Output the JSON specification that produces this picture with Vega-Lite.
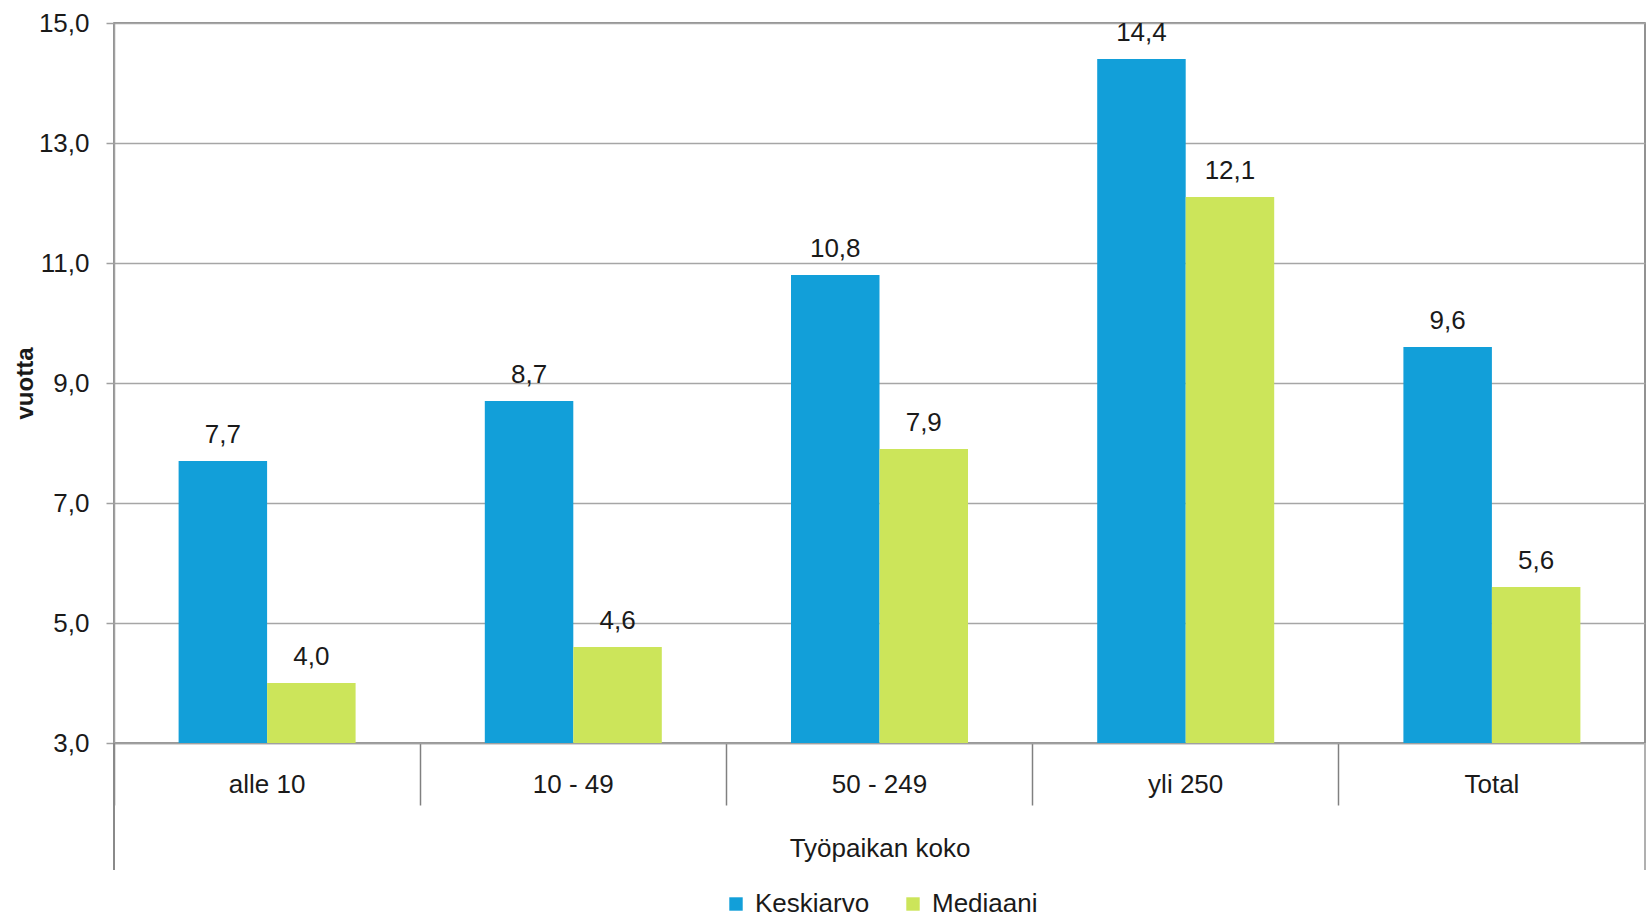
{
  "$schema": "https://vega.github.io/schema/vega-lite/v6.json",
  "width": 1531,
  "height": 720,
  "autosize": {"type": "none"},
  "padding": {"left": 114, "top": 23, "right": 2, "bottom": 177},
  "background": "white",
  "config": {
    "font": "Liberation Sans",
    "view": {"stroke": "#6f6f6f", "strokeWidth": 1.5},
    "locale": {"number": {"decimal": ",", "thousands": " ", "grouping": [3], "currency": ["", " €"]}}
  },
  "data": {
    "values": [
      {"koko": "alle 10", "sarja": "Keskiarvo", "arvo": 7.7},
      {"koko": "alle 10", "sarja": "Mediaani", "arvo": 4.0},
      {"koko": "10 - 49", "sarja": "Keskiarvo", "arvo": 8.7},
      {"koko": "10 - 49", "sarja": "Mediaani", "arvo": 4.6},
      {"koko": "50 - 249", "sarja": "Keskiarvo", "arvo": 10.8},
      {"koko": "50 - 249", "sarja": "Mediaani", "arvo": 7.9},
      {"koko": "yli 250", "sarja": "Keskiarvo", "arvo": 14.4},
      {"koko": "yli 250", "sarja": "Mediaani", "arvo": 12.1},
      {"koko": "Total", "sarja": "Keskiarvo", "arvo": 9.6},
      {"koko": "Total", "sarja": "Mediaani", "arvo": 5.6}
    ]
  },
  "encoding": {
    "x": {
      "field": "koko", "type": "nominal", "sort": null,
      "scale": {"paddingInner": 0, "paddingOuter": 0},
      "axis": {
        "title": "Työpaikan koko",
        "titleFont": "Liberation Sans", "titleFontSize": 26, "titleFontWeight": "normal", "titleColor": "#1a1a1a",
        "titleY": 113, "titleBaseline": "alphabetic",
        "labelAngle": 0, "labelFontSize": 26, "labelColor": "#1a1a1a", "labelBaseline": "top", "labelPadding": -34,
        "bandPosition": 0, "tickSize": 62, "tickColor": "#808080", "tickWidth": 1.5,
        "domainColor": "#a0a0a0", "domainWidth": 1.5, "grid": false
      }
    },
    "y": {
      "field": "arvo", "type": "quantitative",
      "scale": {"domain": [3, 15], "nice": false, "zero": false},
      "axis": {
        "title": "vuotta", "titleFontSize": 24, "titleFontWeight": "bold", "titleColor": "#1a1a1a",
        "titleX": -89, "titleY": 360, "titleAngle": -90, "titleBaseline": "middle", "titleAlign": "center",
        "values": [3, 5, 7, 9, 11, 13, 15], "format": ".1f",
        "labelFontSize": 26, "labelColor": "#1a1a1a", "labelPadding": 17,
        "tickSize": 8, "tickColor": "#a0a0a0", "tickWidth": 1.5,
        "domainColor": "#a0a0a0", "domainWidth": 1.5,
        "gridColor": "#a6a6a6", "gridWidth": 1.5
      }
    }
  },
  "layer": [
    {
      "mark": {"type": "bar"},
      "encoding": {
        "xOffset": {"field": "sarja", "type": "nominal", "scale": {"paddingInner": 0, "paddingOuter": 0.73}},
        "y2": {"datum": 3},
        "color": {
          "field": "sarja", "type": "nominal",
          "scale": {"domain": ["Keskiarvo", "Mediaani"], "range": ["#129fd9", "#cce55a"]},
          "legend": {
            "title": null, "orient": "none", "direction": "horizontal",
            "legendX": 609, "legendY": 868,
            "symbolType": "square", "symbolSize": 180, "symbolStrokeWidth": 0,
            "labelFontSize": 26, "labelColor": "#1a1a1a", "labelOffset": 6, "columnPadding": 30
          }
        }
      }
    },
    {
      "mark": {"type": "text", "baseline": "alphabetic", "dy": -18, "fontSize": 26, "color": "#1a1a1a"},
      "encoding": {
        "xOffset": {"field": "sarja", "type": "nominal"},
        "text": {"field": "arvo", "type": "quantitative", "format": ".1f"}
      }
    },
    {
      "mark": {"type": "rule", "color": "#8a8a8a", "strokeWidth": 1.5},
      "encoding": {
        "x": {"datum": "alle 10", "bandPosition": 0},
        "y": {"datum": 3},
        "y2": {"datum": 0.883}
      }
    },
    {
      "mark": {"type": "rule", "color": "#b0b0b0", "strokeWidth": 1.5},
      "encoding": {
        "x": {"datum": "Total", "bandPosition": 1},
        "y": {"datum": 3},
        "y2": {"datum": 0.883}
      }
    }
  ]
}
